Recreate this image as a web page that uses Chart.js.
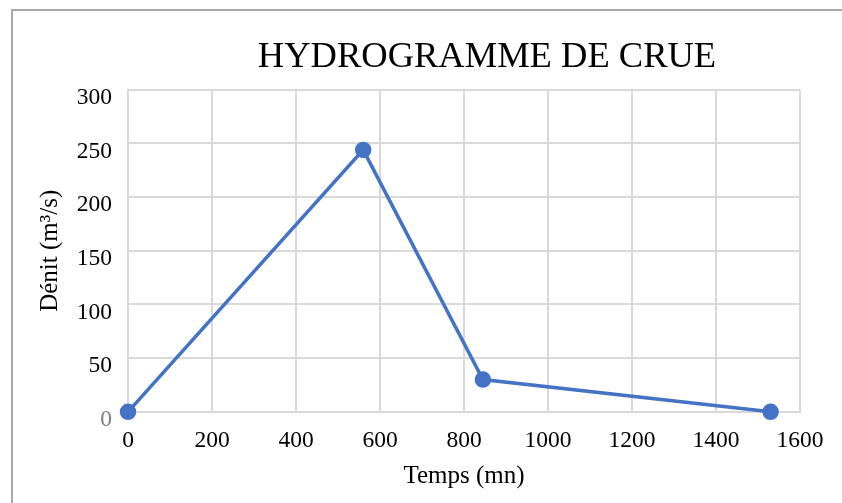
<!DOCTYPE html>
<html>
<head>
<meta charset="utf-8">
<script src="https://cdn.jsdelivr.net/npm/chart.js@4/dist/chart.umd.min.js"></script>
<style>
  html, body { margin: 0; padding: 0; background: #fff; overflow: hidden; width: 842px; height: 503px; }
  #wrap { position: absolute; left: 0; top: 0; width: 974px; height: 503px; }
  #frame { position: absolute; left: 11px; top: 9px; width: 2000px; height: 2000px;
           border-left: 2px solid #a8a8a8; border-top: 2px solid #a8a8a8; box-sizing: border-box; pointer-events: none; }
  canvas { position: absolute; left: 0; top: 0; }
</style>
</head>
<body>
<div id="wrap">
  <canvas id="c" width="974" height="503"></canvas>
  <div id="frame"></div>
</div>
<script>
const chartTitle = 'HYDROGRAMME DE CRUE';
const xAxisTitle = 'Temps (mn)';
const yAxisTitle = 'Dénit (m³/s)';
const timeMin = [0, 560, 845, 1530];
const debit = [0, 244, 30, 0];
const xTicks = [0, 200, 400, 600, 800, 1000, 1200, 1400, 1600];
const yTicks = [0, 50, 100, 150, 200, 250, 300];

const FONT = "'Liberation Serif', 'Times New Roman', serif";
const points = timeMin.map((t, i) => ({ x: t, y: debit[i] }));

new Chart(document.getElementById('c'), {
  type: 'line',
  data: {
    datasets: [{
      data: points,
      borderColor: '#4472C4',
      backgroundColor: '#4472C4',
      borderWidth: 3.5,
      pointRadius: 6.5,
      pointHoverRadius: 6.5,
      pointBackgroundColor: '#4472C4',
      pointBorderColor: '#4472C4',
      tension: 0,
      fill: false,
      clip: false,
      xAxisID: 'x',
      yAxisID: 'y'
    }]
  },
  options: {
    responsive: false,
    animation: false,
    layout: { padding: { left: 0, right: 0, top: 0, bottom: 12 } },
    plugins: {
      legend: { display: false },
      tooltip: { enabled: false },
      title: {
        display: true,
        text: chartTitle,
        color: '#000',
        font: { family: FONT, size: 36.5, weight: 'normal', lineHeight: 1.2 },
        padding: { top: 36, bottom: 10 }
      }
    },
    scales: {
      x: {
        type: 'linear',
        min: xTicks[0],
        max: xTicks[xTicks.length - 1],
        afterBuildTicks: (s) => { s.ticks = xTicks.map(v => ({ value: v })); },
        grid: { color: '#d9d9d9', lineWidth: 2, drawTicks: false },
        border: { color: '#d9d9d9', width: 2 },
        ticks: { color: '#000', padding: 15, maxRotation: 0, autoSkip: false,
                 callback: (v) => String(v),
                 font: { family: FONT, size: 23.5 } },
        title: { display: true, text: xAxisTitle, color: '#000',
                 font: { family: FONT, size: 25, lineHeight: 1.2 },
                 padding: { top: -9, bottom: 0 } }
      },
      y: {
        position: 'left',
        min: yTicks[0],
        max: yTicks[yTicks.length - 1],
        afterBuildTicks: (s) => { s.ticks = yTicks.map(v => ({ value: v })); },
        afterFit: (s) => { s.width = 128; },
        grid: { color: '#d9d9d9', lineWidth: 2, drawTicks: false },
        border: { color: '#d9d9d9', width: 2 },
        ticks: { padding: 16, labelOffset: 8,
                 callback: (v) => String(v),
                 color: (ctx) => (ctx.tick && ctx.tick.value === 0 ? '#7f7f7f' : '#000'),
                 font: { family: FONT, size: 23.5 } },
        title: { display: true, text: yAxisTitle, color: '#000',
                 font: { family: FONT, size: 25, lineHeight: 1.2 },
                 padding: { top: 35, bottom: 14 } }
      },
      yR: {
        position: 'right',
        display: true,
        afterFit: (s) => { s.width = 174; },
        grid: { display: false, drawTicks: false },
        border: { display: false },
        ticks: { display: false },
        title: { display: false }
      }
    }
  }
});
</script>
</body>
</html>
